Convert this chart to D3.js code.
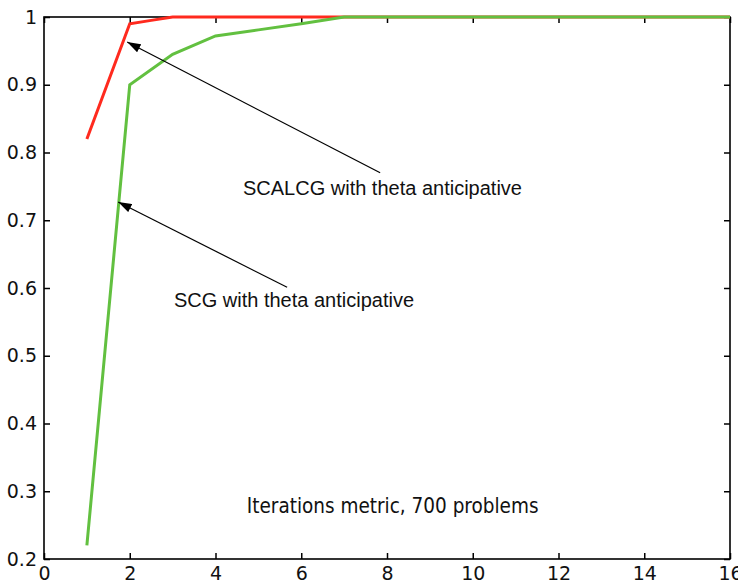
<!DOCTYPE html>
<html>
<head>
<meta charset="utf-8">
<script src="https://cdn.jsdelivr.net/npm/d3@7"></script>
<style>
  body { margin: 0; background: #fff; }
  svg { display: block; }
</style>
</head>
<body>
<div id="vis"></div>
<script>
// data
var scalcgX = [1, 2, 2.5, 3, 16];
var scalcgY = [0.82, 0.99, 0.995, 1.0, 1.0];

var scgX = [1, 2, 3, 4, 5, 6, 7, 16];
var scgY = [0.22, 0.90, 0.945, 0.972, 0.981, 0.99, 1.0, 1.0];

var xTicks = [0, 2, 4, 6, 8, 10, 12, 14, 16];
var yTicks = [0.2, 0.3, 0.4, 0.5, 0.6, 0.7, 0.8, 0.9, 1];

// annotations: text position and arrow (tail -> tip), in data units
var annoText = ["SCALCG with theta anticipative", "SCG with theta anticipative"];
var annoTextX = [4.64, 3.03];
var annoTextY = [0.737, 0.572];
var arrowFromX = [7.84, 5.67];
var arrowFromY = [0.770, 0.601];
var arrowToX = [1.94, 1.73];
var arrowToY = [0.963, 0.727];

var noteText = "Iterations metric,  700 problems";
var noteX = 4.73, noteY = 0.268;

var W = 738, H = 586;
var margin = {top: 17, right: 8, bottom: 27, left: 44},
    width = W - margin.left - margin.right,
    height = H - margin.top - margin.bottom;

var svg = d3.select("#vis")
    .append("svg")
    .attr("width", W)
    .attr("height", H)
    .append("g")
    .attr("transform", "translate(" + margin.left + "," + margin.top + ")");

var x = d3.scaleLinear().domain([0, 16]).range([0, width]);
var y = d3.scaleLinear().domain([0.2, 1]).range([height, 0]);

svg.append("defs").append("marker")
    .attr("id", "head")
    .attr("viewBox", "0 0 12 8")
    .attr("refX", 12)
    .attr("refY", 4)
    .attr("markerUnits", "userSpaceOnUse")
    .attr("markerWidth", 14)
    .attr("markerHeight", 9)
    .attr("orient", "auto")
    .append("path")
    .attr("d", "M0,0 L12,4 L0,8 Z")
    .attr("fill", "#000");

// axes, MATLAB-style box with inward ticks
function styleAxis(g) {
    g.select(".domain").remove();
    g.selectAll(".tick line").attr("stroke", "#000").attr("stroke-width", 1.5);
    g.selectAll(".tick text")
        .attr("fill", "#111")
        .style("font-family", "'DejaVu Sans', sans-serif")
        .style("font-size", "19px");
}

svg.append("g")
    .attr("transform", "translate(0," + height + ")")
    .call(d3.axisBottom(x).tickValues(xTicks).tickSizeInner(-6).tickSizeOuter(0).tickPadding(8)
        .tickFormat(d3.format("d")))
    .call(styleAxis);

svg.append("g")
    .call(d3.axisTop(x).tickValues(xTicks).tickSizeInner(-6).tickSizeOuter(0).tickFormat(""))
    .call(styleAxis);

svg.append("g")
    .call(d3.axisLeft(y).tickValues(yTicks).tickSizeInner(-6).tickSizeOuter(0).tickPadding(7)
        .tickFormat(function (d) { return d === 1 ? "1" : d3.format(".1f")(d); }))
    .call(styleAxis);

svg.append("g")
    .attr("transform", "translate(" + width + ",0)")
    .call(d3.axisRight(y).tickValues(yTicks).tickSizeInner(-6).tickSizeOuter(0).tickFormat(""))
    .call(styleAxis);

svg.append("rect")
    .attr("width", width)
    .attr("height", height)
    .attr("fill", "none")
    .attr("stroke", "#000")
    .attr("stroke-width", 1.6);

var line = d3.line()
    .x(function (d) { return x(d[0]); })
    .y(function (d) { return y(d[1]); });

svg.append("path")
    .datum(d3.zip(scalcgX, scalcgY))
    .attr("d", line)
    .attr("fill", "none")
    .attr("stroke", "#ff2a1e")
    .attr("stroke-width", 3);

svg.append("path")
    .datum(d3.zip(scgX, scgY))
    .attr("d", line)
    .attr("fill", "none")
    .attr("stroke", "#62c040")
    .attr("stroke-width", 3);

// arrows and labels
svg.selectAll(".arrow")
    .data(d3.range(annoText.length))
    .enter().append("line")
    .attr("class", "arrow")
    .attr("x1", function (i) { return x(arrowFromX[i]); })
    .attr("y1", function (i) { return y(arrowFromY[i]); })
    .attr("x2", function (i) { return x(arrowToX[i]); })
    .attr("y2", function (i) { return y(arrowToY[i]); })
    .attr("stroke", "#000")
    .attr("stroke-width", 1.2)
    .attr("marker-end", "url(#head)");

svg.selectAll(".anno")
    .data(d3.range(annoText.length))
    .enter().append("text")
    .attr("class", "anno")
    .attr("x", function (i) { return x(annoTextX[i]); })
    .attr("y", function (i) { return y(annoTextY[i]); })
    .style("font-family", "'Liberation Sans', Arial, sans-serif")
    .style("font-size", "20px")
    .attr("fill", "#111")
    .text(function (i) { return annoText[i]; });

svg.append("text")
    .attr("x", x(noteX))
    .attr("y", y(noteY))
    .style("font-family", "'DejaVu Sans Condensed', 'DejaVu Sans', sans-serif")
    .style("font-stretch", "condensed")
    .style("font-size", "20.5px")
    .attr("fill", "#111")
    .text(noteText);
</script>
</body>
</html>
